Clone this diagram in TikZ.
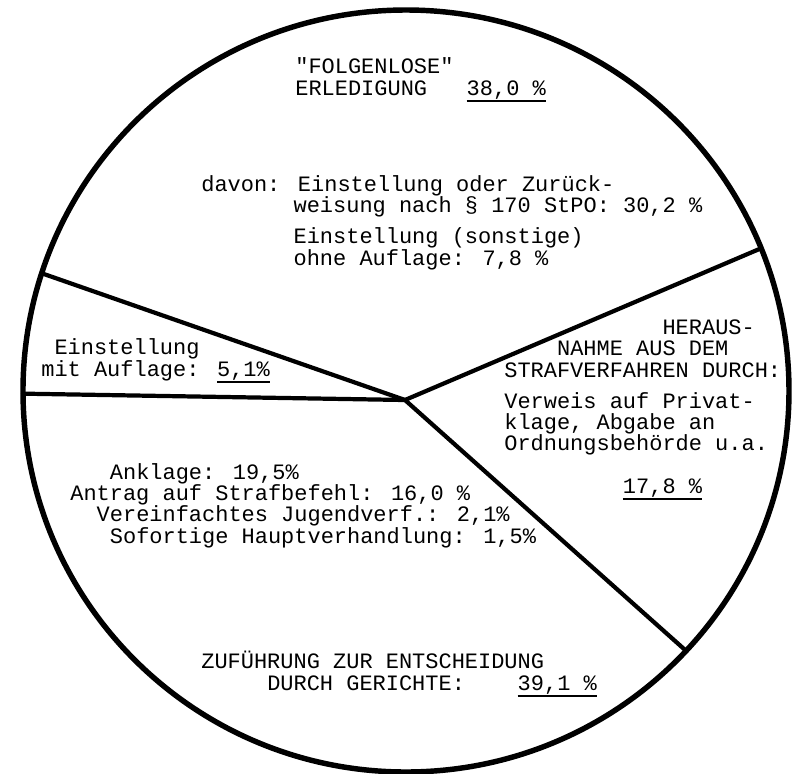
\documentclass[tikz,border=0pt]{standalone}
\usepackage{fontspec}
\newfontfamily\tmfont{Liberation Mono}
\usetikzlibrary{calc}

\newcommand{\einr}[1]{\hspace*{#1\fontcharwd\font`\M}}
\newcommand{\unter}[1]{\setbox0\hbox{#1}%
    \rlap{\raisebox{-4pt}{\rule{\wd0}{1.1pt}}}\box0}

\begin{document}
\begin{tikzpicture}[
            rim/.style={line width=3.1pt, black},
            spoke/.style={line width=2.4pt, black, line cap=round},
            lbl/.style={inner sep=0pt, align=left, anchor=base west,
                        font=\tmfont\fontsize{12.5}{12}\selectfont}
        ]
            \useasboundingbox (-8.10,-7.46) rectangle (7.74,8.00);

            \coordinate (mid) at (0,0);
            \coordinate (ctr) at (0.02,0.18);
            \coordinate (ul) at ($(ctr)+(162:7.66 and 7.62)$);
            \coordinate (le) at ($(ctr)+(180.4:7.66 and 7.62)$);
            \coordinate (ur) at ($(ctr)+(22:7.66 and 7.62)$);
            \coordinate (lr) at ($(ctr)+(-43:7.66 and 7.62)$);

            \draw[rim] (ctr) ellipse [x radius=7.66, y radius=7.62];
            \draw[spoke] (mid) -- (ul);
            \draw[spoke] (mid) -- (le);
            \draw[spoke] (mid) -- (ur);
            \draw[spoke] (mid) -- (lr);

            % base anchor sits on the last line of each block
            \node[lbl] (folgenlos) at (-2.20,6.10)
                {"FOLGENLOSE"\\ERLEDIGUNG~~~\unter{38,0~\%}};
            \node[lbl] (davon) at (-4.08,2.70)
                {davon: Einstellung oder Zurück-\\
                 \einr{7}weisung nach \S~170 StPO: 30,2~\%\\[6pt]
                 \einr{7}Einstellung (sonstige)\\
                 \einr{7}ohne Auflage: 7,8~\%};
            \node[lbl] (auflage) at (-7.28,0.48)
                {\einr{1}Einstellung\\mit Auflage: \unter{5,1\%}};
            \node[lbl] (heraus) at (1.98,-1.86)
                {\einr{12}HERAUS-\\
                 \einr{4}NAHME AUS DEM\\
                 STRAFVERFAHREN DURCH:\\[6pt]
                 Verweis auf Privat-\\
                 klage, Abgabe an\\
                 Ordnungsbehörde u.a.\\[12pt]
                 \einr{9}\unter{17,8~\%}};
            \node[lbl] (anklage) at (-6.70,-2.86)
                {\einr{3}Anklage: 19,5\%\\
                 Antrag auf Strafbefehl: 16,0~\%\\
                 \einr{2}Vereinfachtes Jugendverf.: 2,1\%\\
                 \einr{3}Sofortige Hauptverhandlung: 1,5\%};
            \node[lbl] (gericht) at (-4.08,-5.80)
                {ZUFÜHRUNG ZUR ENTSCHEIDUNG\\
                 \einr{5}DURCH GERICHTE:~~~~\unter{39,1~\%}};
        \end{tikzpicture}
\end{document}
